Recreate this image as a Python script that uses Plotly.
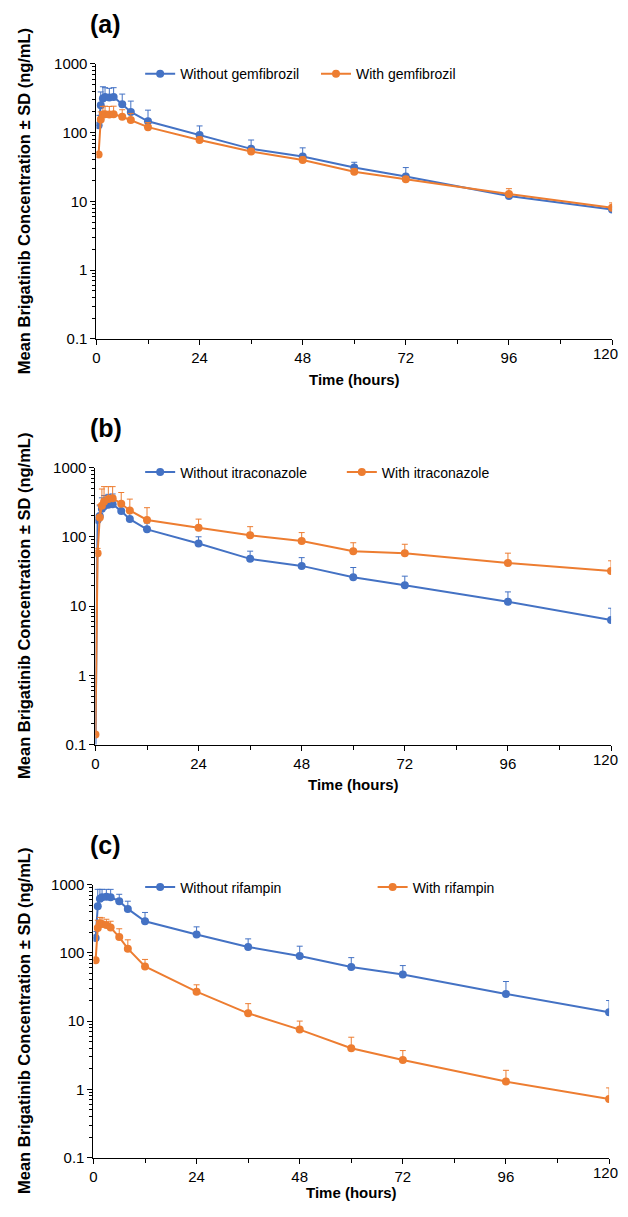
import plotly.graph_objects as go

# ---------------- data ----------------
time_a = [0.5, 1, 1.5, 2, 3, 4, 6, 8, 12, 24, 36, 48, 60, 72, 96, 120]
without_gem = [128, 250, 314, 330, 325, 330, 259, 200, 146, 92, 58, 45, 31, 23, 12, 7.6]
without_gem_sd = [50, 140, 150, 120, 115, 120, 104, 87, 66, 33, 20, 15, 6, 8, 1.5, 0.9]
with_gem = [48, 155, 183, 185, 183, 185, 170, 152, 120, 78, 53, 40, 27, 21, 12.8, 8.1]
with_gem_sd = [3, 45, 57, 57, 57, 57, 45, 38, 20, 8, 5, 4, 3, 2, 2.5, 1.4]

time_b = [0, 0.5, 1, 1.5, 2, 3, 4, 6, 8, 12, 24, 36, 48, 60, 72, 96, 120]
without_itra = [0.08, 175, 200, 255, 275, 290, 295, 235, 180, 128, 80, 48, 38, 26, 20, 11.5, 6.3]
without_itra_sd = [0, 30, 80, 110, 120, 120, 120, 70, 45, 30, 20, 14, 12, 10, 7, 4.5, 3]
with_itra = [0.14, 58, 190, 280, 320, 350, 360, 300, 240, 175, 135, 105, 87, 62, 58, 42, 32]
with_itra_sd = [0, 10, 100, 210, 210, 180, 170, 136, 110, 88, 45, 35, 28, 20, 20, 16, 13]

time_c = [0.5, 1, 1.5, 2, 3, 4, 6, 8, 12, 24, 36, 48, 60, 72, 96, 120]
without_rif = [165, 480, 620, 650, 660, 650, 570, 440, 290, 185, 122, 90, 62, 48, 25, 13.5]
without_rif_sd = [40, 370, 230, 200, 190, 200, 150, 130, 100, 55, 38, 35, 23, 17, 13, 6.5]
with_rif = [78, 230, 270, 265, 255, 235, 170, 115, 63, 27, 13, 7.5, 4, 2.7, 1.3, 0.72]
with_rif_sd = [0, 70, 60, 60, 55, 55, 55, 40, 17, 7, 5, 2.5, 1.8, 1.0, 0.6, 0.33]

y_tick_vals = [0.1, 1, 10, 100, 1000]
y_tick_text = ["0.1", "1", "10", "100", "1000"]
x_tick_vals = [0, 24, 48, 72, 96, 120]
x_tick_text = ["0", "24", "48", "72", "96", "120"]
panel_labels = ["(a)", "(b)", "(c)"]
legend_names = [("Without gemfibrozil", "With gemfibrozil"),
                ("Without itraconazole", "With itraconazole"),
                ("Without rifampin", "With rifampin")]

# ---------------- style ----------------
PAGE_W, PAGE_H = 628, 1217
OFF = 8  # default body margin of the html page
W, H = PAGE_W - 2 * OFF, PAGE_H - 2 * OFF
BLUE = "#4472C4"
ORANGE = "#ED7D31"
FONT = "Liberation Sans, Arial, sans-serif"

def fy(py):
    return 1 - (py - OFF) / H

def fx(px):
    return (px - OFF) / W

# page-pixel geometry of each panel: (x_left, x_right, y_top, y_bottom)
panels = [(93, 612, 55.5, 334.5), (92, 611, 465, 746), (90, 609, 888, 1165)]
xtitle_gap = [41, 41, 35]
legend_pos = [((137, 66), (314, 66)), ((137, 470), (340, 470)), ((137, 891), (371, 891))]

series = [
    (time_a, without_gem, without_gem_sd, with_gem, with_gem_sd),
    (time_b, without_itra, without_itra_sd, with_itra, with_itra_sd),
    (time_c, without_rif, without_rif_sd, with_rif, with_rif_sd),
]

fig = go.Figure()
minor_vals = [m * 10 ** e for e in range(-1, 3) for m in range(2, 10)]

annotations = []
for i, (t, b, bsd, o, osd) in enumerate(series):
    n = i + 1
    xa = "x" if n == 1 else f"x{n}"
    ya = "y" if n == 1 else f"y{n}"
    for k, (vals, sd, col) in enumerate([(b, bsd, BLUE), (o, osd, ORANGE)]):
        lg = 2 * i + k + 1
        fig.add_trace(go.Scatter(
            x=t, y=vals, mode="lines+markers", name=legend_names[i][k],
            xaxis=xa, yaxis=ya,
            line=dict(color=col, width=2),
            marker=dict(color=col, size=8),
            error_y=dict(type="data", symmetric=False, array=sd,
                         arrayminus=[0] * len(sd), color=col, thickness=1, width=3),
            legend="legend" if lg == 1 else f"legend{lg}",
            showlegend=True,
        ))
    xl, xr, yt, yb = panels[i]
    xkey = "xaxis" if n == 1 else f"xaxis{n}"
    ykey = "yaxis" if n == 1 else f"yaxis{n}"
    fig.layout[xkey] = dict(
        domain=[fx(xl), fx(xr)], anchor=ya, range=[0, 120],
        tickvals=x_tick_vals, ticktext=x_tick_text[:-1] + [""],
        ticks="outside", ticklen=5, tickcolor="black",
        showline=True, linecolor="black", linewidth=1, showgrid=False, zeroline=False,
        tickfont=dict(family=FONT, size=15, color="black"),
        minor=dict(dtick=12, tick0=0, ticks="outside", ticklen=4, tickcolor="black", showgrid=False),
    )
    fig.layout[ykey] = dict(
        domain=[fy(yb), fy(yt)], anchor=xa, type="log", range=[-1, 3],
        tickvals=y_tick_vals, ticktext=y_tick_text, ticks="outside", ticklen=5,
        tickcolor="black", showline=True, linecolor="black", linewidth=1,
        showgrid=False, zeroline=False,
        tickfont=dict(family=FONT, size=15, color="black"),
        minor=dict(tickvals=minor_vals, ticks="outside", ticklen=3, tickcolor="black", showgrid=False),
    )
    # last x tick label, kept inside the page edge
    annotations.append(dict(
        text=x_tick_text[-1], xref="paper", yref="paper",
        x=1.0, y=fy(yb + 15), xanchor="right", yanchor="middle", showarrow=False,
        font=dict(family=FONT, size=15, color="black")))
    # y title
    annotations.append(dict(
        text="<b>Mean Brigatinib Concentration ± SD (ng/mL)</b>", textangle=-90,
        xref="paper", yref="paper", x=fx(20), y=fy((yt + yb) / 2 + 0),
        xanchor="center", yanchor="middle", showarrow=False,
        font=dict(family=FONT, size=16.5, color="black")))
    # x title
    annotations.append(dict(
        text="<b>Time (hours)</b>", xref="paper", yref="paper",
        x=fx((xl + xr) / 2), y=fy(yb + xtitle_gap[i]), xanchor="center", yanchor="middle",
        showarrow=False, font=dict(family=FONT, size=15, color="black")))
    # panel label
    annotations.append(dict(
        text=f"<b>{panel_labels[i]}</b>", xref="paper", yref="paper",
        x=fx(84), y=fy(yt - 40), xanchor="left", yanchor="middle",
        showarrow=False, font=dict(family=FONT, size=25, color="black")))

legends = {}
for i in range(3):
    for k in range(2):
        lg = 2 * i + k + 1
        key = "legend" if lg == 1 else f"legend{lg}"
        px, py = legend_pos[i][k]
        legends[key] = dict(x=fx(px), y=fy(py), xanchor="left", yanchor="middle",
                            bgcolor="rgba(0,0,0,0)", itemwidth=30,
                            font=dict(family=FONT, size=14, color="black"))

fig.update_layout(
    width=W, height=H, margin=dict(l=0, r=0, t=0, b=0),
    paper_bgcolor="white", plot_bgcolor="white",
    annotations=annotations, **legends,
)

fig.write_html("out.html", config={"displayModeBar": False})
